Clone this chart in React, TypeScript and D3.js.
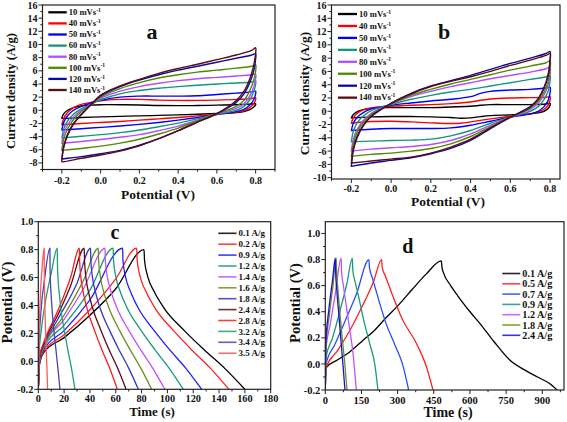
import React, { useEffect } from 'react';
import * as d3 from 'd3';

type Pt = [number, number];

const FONT = '"Liberation Serif", "Times New Roman", serif';

// ---------- Panel a / b : cyclic voltammetry ----------
const scanRates = ['10', '40', '50', '60', '80', '100', '120', '140'];
const cvColors = ['#000000', '#ff0000', '#0000ff', '#12977a', '#b44cff', '#4d8a00', '#0b0b9c', '#5c0c12'];

const cvAUp: Pt[][] = [
  [[-0.2,-1.15],[-0.19,-0.5],[-0.17,0.0],[-0.14,0.4],[-0.1,0.65],[-0.05,0.8],[0,0.85],[0.1,0.85],[0.2,0.8],[0.3,0.72],[0.4,0.7],[0.5,0.72],[0.6,0.78],[0.7,0.85],[0.78,0.95],[0.8,1.0]],
  [[-0.2,-2.2],[-0.19,-1.2],[-0.17,-0.3],[-0.14,0.4],[-0.1,0.9],[-0.05,1.2],[0,1.45],[0.1,1.65],[0.2,1.65],[0.3,1.55],[0.4,1.5],[0.5,1.5],[0.6,1.55],[0.7,1.65],[0.78,1.8],[0.8,1.9]],
  [[-0.2,-3.0],[-0.19,-1.8],[-0.17,-0.8],[-0.14,0.0],[-0.1,0.6],[-0.05,1.1],[0,1.5],[0.1,2.0],[0.2,2.15],[0.3,2.15],[0.4,2.15],[0.5,2.2],[0.6,2.4],[0.7,2.6],[0.78,2.8],[0.8,2.9]],
  [[-0.2,-4.2],[-0.19,-2.8],[-0.17,-1.6],[-0.14,-0.6],[-0.1,0.2],[-0.05,0.9],[0,1.6],[0.1,2.5],[0.2,3.0],[0.3,3.35],[0.4,3.6],[0.5,3.8],[0.6,4.0],[0.7,4.15],[0.78,4.3],[0.8,4.5]],
  [[-0.2,-5.0],[-0.19,-3.5],[-0.17,-2.2],[-0.14,-1.0],[-0.1,0.0],[-0.05,0.85],[0,1.8],[0.1,2.9],[0.2,3.6],[0.3,4.1],[0.4,4.5],[0.5,4.8],[0.6,5.0],[0.7,5.2],[0.78,5.4],[0.8,5.5]],
  [[-0.2,-6.1],[-0.19,-4.3],[-0.17,-2.8],[-0.14,-1.4],[-0.1,-0.2],[-0.05,0.85],[0,2.0],[0.1,3.3],[0.2,4.2],[0.3,4.9],[0.4,5.4],[0.5,5.8],[0.6,6.1],[0.7,6.4],[0.78,6.7],[0.8,6.9]],
  [[-0.2,-7.4],[-0.19,-5.4],[-0.17,-3.6],[-0.14,-2.0],[-0.1,-0.6],[-0.05,0.85],[0,2.2],[0.1,3.6],[0.2,4.6],[0.3,5.4],[0.4,6.1],[0.5,6.7],[0.6,7.3],[0.7,7.9],[0.78,8.4],[0.8,8.6]],
  [[-0.2,-7.6],[-0.19,-5.6],[-0.17,-3.8],[-0.14,-2.1],[-0.1,-0.7],[-0.05,0.85],[0,2.3],[0.1,3.7],[0.2,4.7],[0.3,5.6],[0.4,6.35],[0.5,7.0],[0.6,7.7],[0.7,8.4],[0.78,9.1],[0.8,9.5]],
];
const cvADown: Pt[][] = [
  [[0.8,0.85],[0.79,0.5],[0.77,0.1],[0.74,-0.2],[0.7,-0.35],[0.6,-0.5],[0.5,-0.6],[0.4,-0.7],[0.3,-0.78],[0.2,-0.85],[0.1,-0.92],[0,-1.0],[-0.1,-1.1],[-0.2,-1.2]],
  [[0.8,1.6],[0.79,1.0],[0.77,0.4],[0.74,-0.05],[0.7,-0.3],[0.6,-0.6],[0.5,-0.85],[0.4,-1.1],[0.3,-1.3],[0.2,-1.5],[0.1,-1.7],[0,-1.85],[-0.1,-2.0],[-0.2,-2.2]],
  [[0.8,2.5],[0.79,1.6],[0.77,0.8],[0.74,0.15],[0.7,-0.2],[0.6,-0.65],[0.5,-1.1],[0.4,-1.5],[0.3,-1.85],[0.2,-2.15],[0.1,-2.4],[0,-2.6],[-0.1,-2.8],[-0.2,-3.0]],
  [[0.8,4.0],[0.79,2.8],[0.77,1.6],[0.74,0.6],[0.7,0.0],[0.6,-0.6],[0.5,-1.3],[0.4,-1.95],[0.3,-2.5],[0.2,-3.0],[0.1,-3.4],[0,-3.7],[-0.1,-3.95],[-0.2,-4.2]],
  [[0.8,4.8],[0.79,3.5],[0.77,2.2],[0.74,1.0],[0.7,0.3],[0.6,-0.55],[0.5,-1.5],[0.4,-2.4],[0.3,-3.1],[0.2,-3.7],[0.1,-4.1],[0,-4.45],[-0.1,-4.75],[-0.2,-5.0]],
  [[0.8,6.0],[0.79,4.5],[0.77,3.0],[0.74,1.5],[0.7,0.6],[0.6,-0.5],[0.5,-1.6],[0.4,-2.7],[0.3,-3.6],[0.2,-4.4],[0.1,-5.0],[0,-5.45],[-0.1,-5.8],[-0.2,-6.1]],
  [[0.8,7.8],[0.79,6.0],[0.77,4.2],[0.74,2.5],[0.7,1.2],[0.6,-0.5],[0.5,-1.8],[0.4,-3.1],[0.3,-4.3],[0.2,-5.3],[0.1,-6.1],[0,-6.6],[-0.1,-7.05],[-0.2,-7.4]],
  [[0.8,8.7],[0.79,6.8],[0.77,4.8],[0.74,2.9],[0.7,1.5],[0.6,-0.5],[0.5,-1.8],[0.4,-3.1],[0.3,-4.3],[0.2,-5.4],[0.1,-6.2],[0,-6.8],[-0.1,-7.3],[-0.2,-7.8]],
];

const cvBUp: Pt[][] = [
  [[-0.2,-1.0],[-0.19,-0.5],[-0.17,-0.05],[-0.14,0.25],[-0.1,0.45],[0,0.55],[0.1,0.55],[0.2,0.55],[0.3,0.65],[0.4,0.75],[0.45,0.9],[0.5,1.0],[0.6,1.0],[0.7,1.0],[0.78,1.1],[0.8,1.2]],
  [[-0.2,-1.8],[-0.19,-1.0],[-0.17,-0.3],[-0.14,0.2],[-0.1,0.5],[0,0.75],[0.1,0.9],[0.2,1.0],[0.3,1.15],[0.4,1.4],[0.45,1.65],[0.5,1.85],[0.6,2.0],[0.7,2.05],[0.78,2.1],[0.8,2.2]],
  [[-0.2,-2.9],[-0.19,-1.8],[-0.17,-0.9],[-0.14,-0.2],[-0.1,0.35],[0,0.9],[0.1,1.25],[0.2,1.55],[0.3,1.8],[0.4,2.2],[0.45,2.7],[0.5,3.0],[0.6,3.2],[0.7,3.3],[0.78,3.5],[0.8,3.6]],
  [[-0.2,-4.6],[-0.19,-3.0],[-0.17,-1.7],[-0.14,-0.7],[-0.1,0.1],[0,1.0],[0.1,1.8],[0.2,2.4],[0.3,2.9],[0.4,3.3],[0.5,3.8],[0.6,4.3],[0.7,4.8],[0.78,5.2],[0.8,5.5]],
  [[-0.2,-6.0],[-0.19,-4.2],[-0.17,-2.7],[-0.14,-1.4],[-0.1,-0.3],[0,1.1],[0.1,2.2],[0.2,3.0],[0.3,3.7],[0.4,4.3],[0.5,4.9],[0.6,5.4],[0.7,5.9],[0.78,6.4],[0.8,6.7]],
  [[-0.2,-6.8],[-0.19,-4.8],[-0.17,-3.1],[-0.14,-1.7],[-0.1,-0.5],[0,1.1],[0.1,2.4],[0.2,3.3],[0.3,4.1],[0.4,4.8],[0.5,5.5],[0.6,6.2],[0.7,6.8],[0.78,7.3],[0.8,7.6]],
  [[-0.2,-8.3],[-0.19,-5.9],[-0.17,-3.9],[-0.14,-2.2],[-0.1,-0.8],[0,1.2],[0.1,2.7],[0.2,3.8],[0.3,4.6],[0.4,5.4],[0.5,6.3],[0.6,7.2],[0.7,8.0],[0.78,8.7],[0.8,9.0]],
  [[-0.2,-7.8],[-0.19,-5.6],[-0.17,-3.7],[-0.14,-2.1],[-0.1,-0.7],[0,1.2],[0.1,2.6],[0.2,3.7],[0.3,4.5],[0.4,5.2],[0.5,6.0],[0.6,6.9],[0.7,7.7],[0.78,8.4],[0.8,8.7]],
];
const cvBDown: Pt[][] = [
  [[0.8,0.9],[0.79,0.4],[0.77,0.0],[0.74,-0.25],[0.7,-0.4],[0.6,-0.55],[0.5,-0.65],[0.45,-0.8],[0.4,-1.0],[0.35,-1.05],[0.3,-0.95],[0.2,-0.85],[0.1,-0.8],[0,-0.8],[-0.1,-0.85],[-0.2,-1.0]],
  [[0.8,1.7],[0.79,0.9],[0.77,0.3],[0.74,-0.1],[0.7,-0.4],[0.6,-0.75],[0.5,-1.15],[0.4,-1.6],[0.35,-1.8],[0.3,-1.85],[0.2,-1.75],[0.1,-1.6],[0,-1.5],[-0.1,-1.55],[-0.2,-1.8]],
  [[0.8,2.8],[0.79,1.6],[0.77,0.7],[0.74,0.0],[0.7,-0.4],[0.6,-0.9],[0.5,-1.5],[0.4,-2.1],[0.3,-2.5],[0.2,-2.6],[0.1,-2.6],[0,-2.6],[-0.1,-2.7],[-0.2,-2.9]],
  [[0.8,4.5],[0.79,3.0],[0.77,1.8],[0.74,0.7],[0.7,0.0],[0.6,-0.9],[0.5,-1.8],[0.4,-2.9],[0.3,-3.7],[0.2,-4.2],[0.1,-4.35],[0,-4.4],[-0.1,-4.5],[-0.2,-4.6]],
  [[0.8,5.6],[0.79,3.9],[0.77,2.5],[0.74,1.2],[0.7,0.3],[0.6,-0.9],[0.5,-2.1],[0.4,-3.4],[0.3,-4.4],[0.2,-5.0],[0.1,-5.3],[0,-5.5],[-0.1,-5.7],[-0.2,-6.0]],
  [[0.8,6.4],[0.79,4.5],[0.77,2.9],[0.74,1.5],[0.7,0.5],[0.6,-0.9],[0.5,-2.3],[0.4,-3.8],[0.3,-4.9],[0.2,-5.6],[0.1,-6.0],[0,-6.3],[-0.1,-6.5],[-0.2,-6.8]],
  [[0.8,7.8],[0.79,5.5],[0.77,3.6],[0.74,1.9],[0.7,0.7],[0.6,-0.9],[0.5,-2.6],[0.4,-4.4],[0.3,-5.6],[0.2,-6.4],[0.1,-7.0],[0,-7.4],[-0.1,-7.8],[-0.2,-8.3]],
  [[0.8,7.5],[0.79,5.3],[0.77,3.5],[0.74,1.8],[0.7,0.6],[0.6,-0.9],[0.5,-2.5],[0.4,-4.2],[0.3,-5.4],[0.2,-6.3],[0.1,-6.9],[0,-7.2],[-0.1,-7.5],[-0.2,-7.8]],
];

const cvXTicks = [-0.2, 0.0, 0.2, 0.4, 0.6, 0.8];
const cvAYTicks = [-8, -6, -4, -2, 0, 2, 4, 6, 8, 10, 12, 14, 16];
const cvBYTicks = [-10, -8, -6, -4, -2, 0, 2, 4, 6, 8, 10, 12, 14, 16];

// ---------- Panel c : GCD ----------
const gcdCLabels = ['0.1 A/g', '0.2 A/g', '0.9 A/g', '1.2 A/g', '1.4 A/g', '1.6 A/g', '1.8 A/g', '2.4 A/g', '2.8 A/g', '3.2 A/g', '3.4 A/g', '3.5 A/g'];
const gcdCColors = ['#000000', '#ff2020', '#1f1fff', '#17997a', '#c050ff', '#6b8e23', '#3535c8', '#5a0a1a', '#ff1a1a', '#1ea070', '#4545b5', '#ff5a5a'];
const gcdCCharge: Pt[][] = [
  [[0,-0.2],[1,-0.02],[4,0.06],[20,0.17],[40,0.33],[60,0.52],[81.9,0.8]],
  [[0,-0.2],[1,-0.01],[4,0.07],[20,0.19],[40,0.37],[60,0.59],[76.2,0.81]],
  [[0,-0.2],[1,0.0],[4,0.08],[20,0.22],[40,0.44],[65.3,0.81]],
  [[0,-0.2],[1,0.01],[4,0.09],[20,0.26],[40,0.51],[58,0.81]],
  [[0,-0.2],[1,0.02],[4,0.1],[20,0.3],[35,0.52],[51.7,0.81]],
  [[0,-0.2],[1,0.02],[4,0.1],[20,0.33],[35,0.58],[46.5,0.81]],
  [[0,-0.2],[1,0.03],[4,0.11],[15,0.3],[30,0.56],[40.5,0.81]],
  [[0,-0.2],[1,0.03],[4,0.12],[15,0.33],[25,0.54],[35.6,0.81]],
  [[0,-0.2],[1,0.04],[4,0.13],[15,0.36],[25,0.6],[31.8,0.81]],
  [[0,-0.2],[0.5,0.05],[2,0.2],[5,0.4],[10,0.63],[14.7,0.81]],
  [[0,-0.2],[0.5,0.1],[2,0.35],[5,0.6],[9,0.81]],
  [[0,-0.2],[0.5,0.15],[1.5,0.45],[3,0.68],[4.6,0.81]],
];
const gcdCDischarge: Pt[][] = [
  [[82.3,0.72],[85.0,0.6],[89.7,0.5],[97.5,0.38],[113.1,0.22],[128.8,0.08],[144.4,-0.05],[160,-0.2]],
  [[76.6,0.72],[79.1,0.6],[83.4,0.5],[90.5,0.38],[104.8,0.22],[119.1,0.08],[133.4,-0.05],[147.7,-0.2]],
  [[65.6,0.72],[67.7,0.6],[71.4,0.5],[77.5,0.38],[89.8,0.22],[102.0,0.08],[114.3,-0.05],[126.5,-0.2]],
  [[58.3,0.72],[60.2,0.6],[63.4,0.5],[68.9,0.38],[79.7,0.22],[90.6,0.08],[101.4,-0.05],[112.3,-0.2]],
  [[51.9,0.72],[53.6,0.6],[56.3,0.5],[61.0,0.38],[70.2,0.22],[79.5,0.08],[88.7,-0.05],[98,-0.2]],
  [[46.7,0.72],[48.2,0.6],[50.6,0.5],[54.8,0.38],[63.0,0.22],[71.3,0.08],[79.5,-0.05],[87.8,-0.2]],
  [[40.7,0.72],[42.0,0.6],[44.2,0.5],[47.9,0.38],[55.3,0.22],[62.7,0.08],[70.1,-0.05],[77.5,-0.2]],
  [[35.8,0.72],[36.9,0.6],[38.8,0.5],[42.1,0.38],[48.6,0.22],[55.0,0.08],[61.5,-0.05],[68,-0.2]],
  [[32.0,0.72],[33.0,0.6],[34.7,0.5],[37.7,0.38],[43.6,0.22],[49.4,0.08],[55.3,-0.05],[61.2,-0.2]],
  [[14.8,0.72],[15.2,0.6],[16.1,0.5],[17.4,0.38],[20.2,0.22],[22.9,0.08],[25.7,-0.05],[28.4,-0.2]],
  [[9.05,0.72],[9.3,0.6],[9.8,0.5],[10.6,0.38],[12.1,0.22],[13.7,0.08],[15.2,-0.05],[16.8,-0.2]],
  [[4.62,0.72],[4.7,0.6],[4.86,0.5],[5.12,0.38],[5.64,0.22],[6.16,0.08],[6.68,-0.05],[7.2,-0.2]],
];
const gcdCXTicks = [0, 20, 40, 60, 80, 100, 120, 140, 160, 180];
const gcdYTicks = [-0.2, 0.0, 0.2, 0.4, 0.6, 0.8, 1.0];

// ---------- Panel d : GCD ----------
const gcdDLabels = ['0.1 A/g', '0.5 A/g', '0.7 A/g', '0.9 A/g', '1.2 A/g', '1.8 A/g', '2.4 A/g'];
const gcdDColors = ['#000000', '#ff2020', '#2a4cff', '#17997a', '#c050ff', '#6b8e23', '#1515d0'];
const gcdDCharge: Pt[][] = [
  [[0,-0.2],[3,-0.03],[50,0.03],[100,0.09],[156,0.18],[200,0.25],[250,0.35],[308,0.46],[360,0.57],[419,0.69],[481,0.79]],
  [[0,-0.2],[3,-0.03],[50,0.1],[100,0.25],[150,0.43],[200,0.63],[233.6,0.8]],
  [[0,-0.2],[3,0.0],[40,0.15],[80,0.32],[130,0.54],[181,0.8]],
  [[0,-0.2],[3,0.05],[30,0.2],[60,0.4],[90,0.62],[112,0.81]],
  [[0,-0.2],[2,0.1],[20,0.3],[40,0.52],[66,0.81]],
  [[0,-0.2],[2,0.12],[15,0.35],[30,0.57],[45.6,0.81]],
  [[0,-0.2],[2,0.15],[15,0.42],[30,0.64],[41.5,0.81]],
];
const gcdDDischarge: Pt[][] = [
  [[484,0.74],[490,0.7],[520,0.6],[550,0.52],[600,0.4],[650,0.29],[700,0.17],[765,0.03],[830,-0.05],[880,-0.1],[930,-0.15],[962,-0.2]],
  [[236,0.74],[250,0.67],[280,0.52],[320,0.34],[377,0.16],[419,-0.02],[446.6,-0.2]],
  [[183,0.74],[195,0.66],[220,0.5],[250,0.32],[290,0.14],[320,0.0],[345.6,-0.2]],
  [[114,0.72],[125,0.62],[140,0.5],[160,0.33],[185,0.15],[205,0.0],[218.4,-0.2]],
  [[67,0.72],[75,0.6],[85,0.47],[100,0.28],[115,0.08],[128.6,-0.2]],
  [[46.5,0.72],[52,0.58],[60,0.4],[70,0.2],[80,0.02],[90,-0.2]],
  [[42.5,0.72],[48,0.56],[56,0.38],[65,0.18],[73,0.0],[81.6,-0.2]],
];
const gcdDXTicks = [0, 150, 300, 450, 600, 750, 900];

// ---------- helpers ----------
function minorTicks(major: number[], domain: [number, number]) {
  const step = major[1] - major[0];
  const out: number[] = [];
  const start = major[0] - step / 2;
  for (let v = start; v <= domain[1] + 1e-9; v += step) {
    if (v >= domain[0] - 1e-9) out.push(v);
  }
  return out;
}

interface FrameProps {
  x: d3.ScaleLinear<number, number>;
  y: d3.ScaleLinear<number, number>;
  xTicks: number[];
  yTicks: number[];
  xFmt: (v: number) => string;
  yFmt: (v: number) => string;
  tickFont: number;
  xLabelDy: number;
}

function Frame({ x, y, xTicks, yTicks, xFmt, yFmt, tickFont, xLabelDy }: FrameProps) {
  const [x0, x1] = x.range();
  const [y0, y1] = y.range();
  const xd = x.domain() as [number, number];
  const yd = y.domain() as [number, number];
  const xMin = minorTicks(xTicks, xd);
  const yMin = minorTicks(yTicks, yd);
  return (
    <g>
      <rect x={x0} y={y1} width={x1 - x0} height={y0 - y1} fill="none" stroke="#222" strokeWidth={1.2} />
      {xTicks.map((t) => (
        <g key={'xt' + t}>
          <line x1={x(t)} x2={x(t)} y1={y0} y2={y0 + 4} stroke="#222" strokeWidth={1} />
          <text x={x(t)} y={y0 + xLabelDy} textAnchor="middle" fontSize={tickFont} fontWeight="bold" fontFamily={FONT} fill="#111">{xFmt(t)}</text>
        </g>
      ))}
      {xMin.map((t, i) => (
        <line key={'xm' + i} x1={x(t)} x2={x(t)} y1={y0} y2={y0 + 2.2} stroke="#222" strokeWidth={1} />
      ))}
      {yTicks.map((t) => (
        <g key={'yt' + t}>
          <line x1={x0 - 4} x2={x0} y1={y(t)} y2={y(t)} stroke="#222" strokeWidth={1} />
          <text x={x0 - 5} y={y(t)} dy="0.35em" textAnchor="end" fontSize={tickFont} fontWeight="bold" fontFamily={FONT} fill="#111">{yFmt(t)}</text>
        </g>
      ))}
      {yMin.map((t, i) => (
        <line key={'ym' + i} x1={x0 - 2.2} x2={x0} y1={y(t)} y2={y(t)} stroke="#222" strokeWidth={1} />
      ))}
    </g>
  );
}

const fmt1 = (v: number) => v.toFixed(1);
const fmt0 = (v: number) => String(v);

function CVPanel({ up, down, x, y, yTicks, letter, letterPos, legend, xTitle, yTitle, xLabelDy }: any) {
  const line = d3.line<Pt>().x((d) => x(d[0])).y((d) => y(d[1])).curve(d3.curveCatmullRomClosed.alpha(0.5));
  const [x0, x1] = x.range();
  const [y0, y1] = y.range();
  const clipId = 'clip' + letter;
  return (
    <g>
      <defs>
        <clipPath id={clipId}><rect x={x0} y={y1} width={x1 - x0} height={y0 - y1} /></clipPath>
      </defs>
      <g clipPath={`url(#${clipId})`}>
        {up.map((u: Pt[], i: number) => (
          <path key={i} d={line([...u, ...down[i]]) || ''} fill="none" stroke={cvColors[i]} strokeWidth={1.4} strokeLinejoin="round" />
        ))}
      </g>
      <Frame x={x} y={y} xTicks={cvXTicks} yTicks={yTicks} xFmt={fmt1} yFmt={fmt0} tickFont={10} xLabelDy={xLabelDy} />
      {scanRates.map((r, i) => {
        const ly = legend.y0 + i * legend.dy;
        return (
          <g key={r}>
            <line x1={legend.x0} x2={legend.x1} y1={ly} y2={ly} stroke={cvColors[i]} strokeWidth={2.3} />
            <text x={legend.x1 + 2} y={ly} dy="0.33em" fontSize={8.6} fontWeight="bold" fontFamily={FONT} fill="#111">
              {r} mVs<tspan dy={-3.2} fontSize={5.6}>-1</tspan>
            </text>
          </g>
        );
      })}
      <text x={letterPos[0]} y={letterPos[1]} textAnchor="middle" fontSize={22} fontWeight="bold" fontFamily={FONT} fill="#111">{letter}</text>
      <text x={xTitle[0]} y={xTitle[1]} textAnchor="middle" fontSize={13.5} fontWeight="bold" fontFamily={FONT} fill="#111">Potential (V)</text>
      <text transform={`translate(${yTitle[0]},${yTitle[1]}) rotate(-90)`} textAnchor="middle" fontSize={yTitle[2]} fontWeight="bold" fontFamily={FONT} fill="#111">Current density (A/g)</text>
    </g>
  );
}

function GCDPanel({ charge, discharge, labels, colors, x, y, xTicks, letter, letterPos, legend, xTitle, yTitle, xLabelDy, tickFont }: any) {
  const line = d3.line<Pt>().x((d) => x(d[0])).y((d) => y(d[1])).curve(d3.curveMonotoneX);
  const [x0, x1] = x.range();
  const [y0, y1] = y.range();
  const clipId = 'clip' + letter;
  return (
    <g>
      <defs>
        <clipPath id={clipId}><rect x={x0} y={y1} width={x1 - x0} height={y0 - y1} /></clipPath>
      </defs>
      <g clipPath={`url(#${clipId})`}>
        {charge.map((c: Pt[], i: number) => (
          <path key={i} d={line([...c, ...discharge[i]]) || ''} fill="none" stroke={colors[i]} strokeWidth={1.3} strokeLinejoin="round" />
        ))}
      </g>
      <Frame x={x} y={y} xTicks={xTicks} yTicks={gcdYTicks} xFmt={fmt0} yFmt={fmt1} tickFont={tickFont} xLabelDy={xLabelDy} />
      {labels.map((l: string, i: number) => {
        const ly = legend.y0 + i * legend.dy;
        return (
          <g key={l}>
            <line x1={legend.x0} x2={legend.x1} y1={ly} y2={ly} stroke={colors[i]} strokeWidth={1.6} opacity={0.85} />
            <text x={legend.x1 + 2} y={ly} dy="0.35em" fontSize={legend.fs} fontWeight="bold" fontFamily={FONT} fill="#111">{l}</text>
          </g>
        );
      })}
      <text x={letterPos[0]} y={letterPos[1]} textAnchor="middle" fontSize={20} fontWeight="bold" fontFamily={FONT} fill="#111">{letter}</text>
      <text x={xTitle[0]} y={xTitle[1]} textAnchor="middle" fontSize={xTitle[2]} fontWeight="bold" fontFamily={FONT} fill="#111">Time (s)</text>
      <text transform={`translate(${yTitle[0]},${yTitle[1]}) rotate(-90)`} textAnchor="middle" fontSize={yTitle[2]} fontWeight="bold" fontFamily={FONT} fill="#111">Potential (V)</text>
    </g>
  );
}

export default function App() {
  useEffect(() => {
    document.body.style.margin = '0';
  }, []);

  const xA = d3.scaleLinear().domain([-0.3, 0.9]).range([42.5, 275]);
  const yA = d3.scaleLinear().domain([-9, 16]).range([169.5, 5]);
  const xB = d3.scaleLinear().domain([-0.3, 0.85]).range([331.5, 560]);
  const yB = d3.scaleLinear().domain([-10.2, 16]).range([179, 5]);
  const xC = d3.scaleLinear().domain([0, 180]).range([38.3, 270.7]);
  const yC = d3.scaleLinear().domain([-0.2, 1.0]).range([389.3, 221.7]);
  const xD = d3.scaleLinear().domain([0, 990]).range([325.3, 564]);
  const yD = d3.scaleLinear().domain([-0.2, 1.09]).range([390, 221.7]);

  return (
    <svg width={567} height={422} style={{ position: 'absolute', left: 0, top: 0, background: '#fff' }}>
      <rect x={0} y={0} width={567} height={422} fill="#fff" />
      <CVPanel up={cvAUp} down={cvADown} x={xA} y={yA} yTicks={cvAYTicks} letter="a" letterPos={[152, 38.5]}
        legend={{ x0: 48.3, x1: 66.7, y0: 12.3, dy: 11.1 }} xTitle={[158, 198.5]} yTitle={[15, 91, 12.6]} xLabelDy={14.5} />
      <CVPanel up={cvBUp} down={cvBDown} x={xB} y={yB} yTicks={cvBYTicks} letter="b" letterPos={[444, 38.5]}
        legend={{ x0: 338, x1: 357, y0: 14, dy: 11.95 }} xTitle={[448, 206]} yTitle={[308.5, 93.5, 13.4]} xLabelDy={13}/>
      <GCDPanel charge={gcdCCharge} discharge={gcdCDischarge} labels={gcdCLabels} colors={gcdCColors} x={xC} y={yC}
        xTicks={gcdCXTicks} letter="c" letterPos={[115, 239.3]} legend={{ x0: 218.3, x1: 236.5, y0: 233.3, dy: 10.9, fs: 9 }}
        xTitle={[152, 415.7, 13]} yTitle={[12, 302.5, 15]} xLabelDy={13} tickFont={10.3} />
      <GCDPanel charge={gcdDCharge} discharge={gcdDDischarge} labels={gcdDLabels} colors={gcdDColors} x={xD} y={yD}
        xTicks={gcdDXTicks} letter="d" letterPos={[407.7, 253.3]} legend={{ x0: 502.3, x1: 520.3, y0: 273.5, dy: 10.3, fs: 10.2 }}
        xTitle={[448, 416.7, 14]} yTitle={[299.5, 303, 14.6]} xLabelDy={13.7} tickFont={10.5} />
    </svg>
  );
}
